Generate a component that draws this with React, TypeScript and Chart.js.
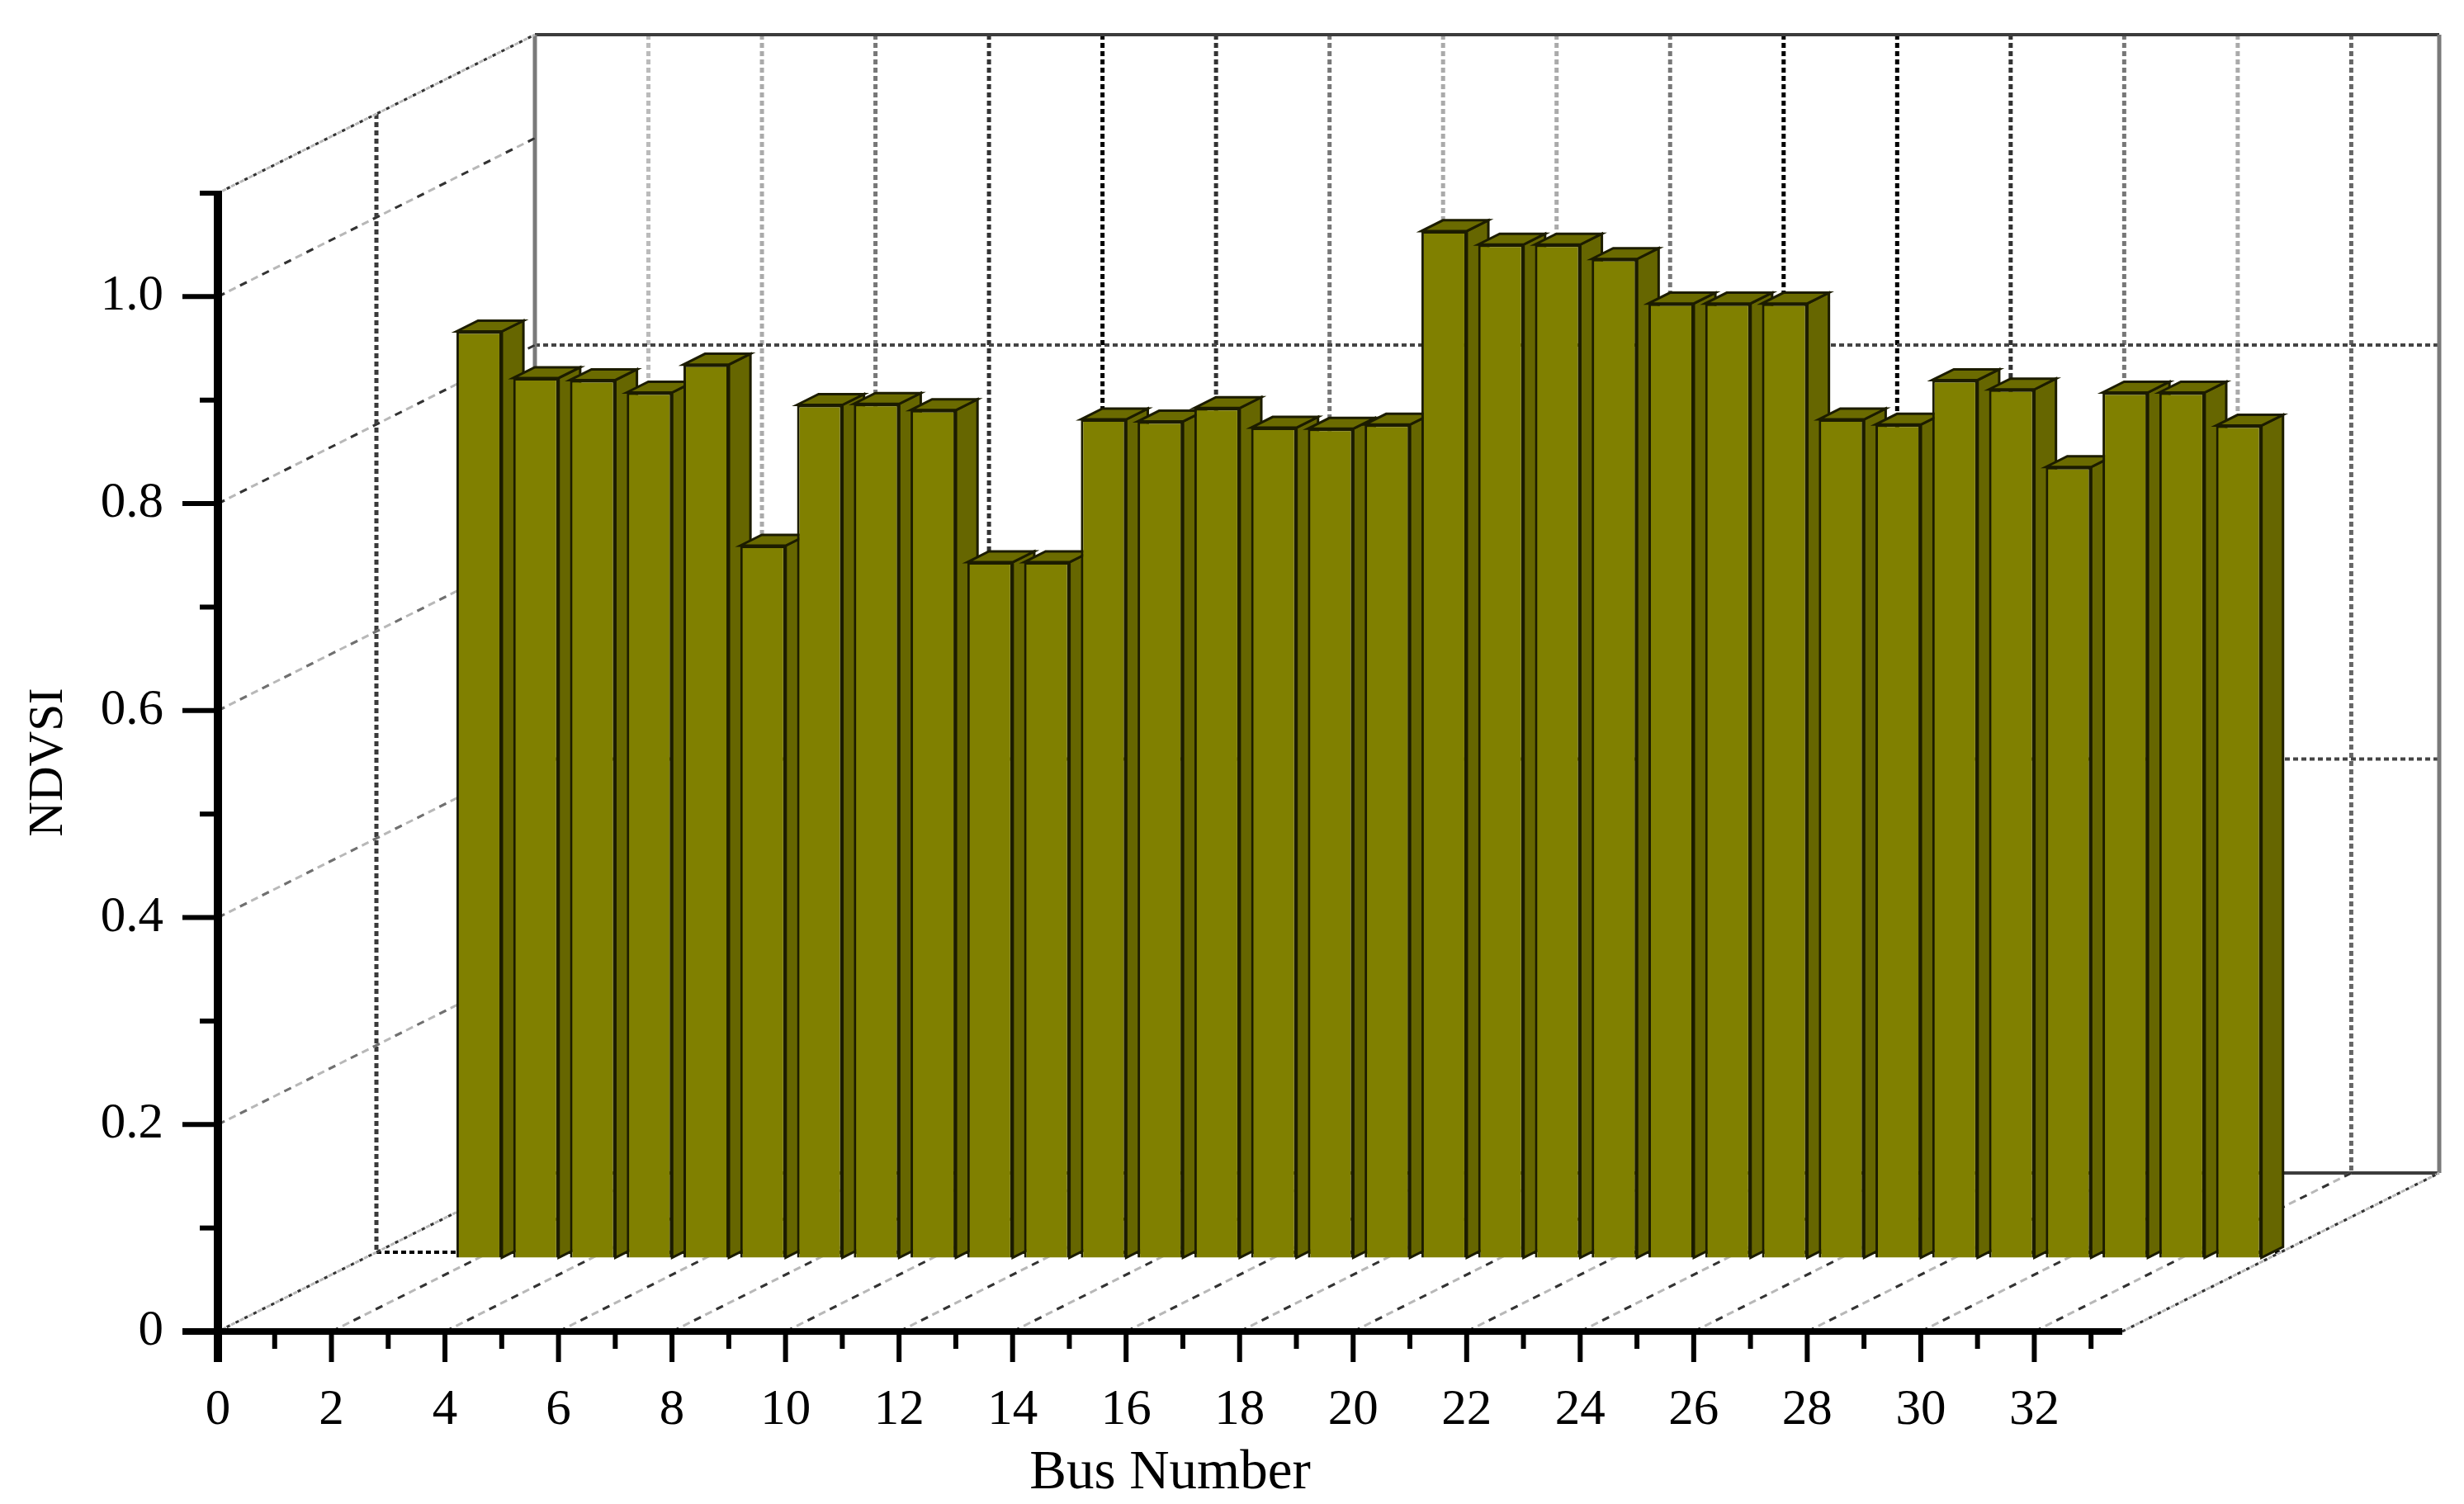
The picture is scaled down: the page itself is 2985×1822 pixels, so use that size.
import React, { useEffect, useRef } from "react";
import { Chart, registerables } from "chart.js";

Chart.register(...registerables);

// ---- data ----
const busNumbers = [2, 3, 4, 5, 6, 7, 8, 9, 10, 11, 12, 13, 14, 15, 16, 17, 18, 19, 20, 21, 22, 23, 24, 25, 26, 27, 28, 29, 30, 31, 32, 33];
const ndvsi = [0.895, 0.85, 0.848, 0.836, 0.863, 0.688, 0.824, 0.825, 0.819, 0.672, 0.672, 0.81, 0.808, 0.821, 0.802, 0.801, 0.805, 0.992, 0.979, 0.979, 0.965, 0.922, 0.922, 0.922, 0.81, 0.805, 0.848, 0.839, 0.764, 0.836, 0.836, 0.804];
const xTickValues = [0, 2, 4, 6, 8, 10, 12, 14, 16, 18, 20, 22, 24, 26, 28, 30, 32];
const yTickValues = [0, 0.2, 0.4, 0.6, 0.8, 1.0];
const yMinorValues = [0.1, 0.3, 0.5, 0.7, 0.9, 1.1];
const backWallRows = [0.8, 0.4];
const backColumnShades = ["#bbbbbb", "#aaaaaa", "#777777", "#333333", "#000000", "#333333", "#777777", "#aaaaaa", "#aaaaaa", "#777777", "#000000", "#000000", "#333333", "#777777", "#aaaaaa", "#666666"];
const axisTitleX = "Bus Number";
const axisTitleY = "NDVSI";

// ---- 3D projection of the depth axis ----
const DEPTH_X = 384;
const DEPTH_Y = -192;
const BAR_PLANE = 0.466;
const BAR_DEPTH = 0.068;
const MID_PLANE = 0.5;

const FRONT = "#808000";
const SIDE = "#666600";
const TOP = "#6b6b00";
const EDGE = "#1c1c00";

const seg = (ctx: CanvasRenderingContext2D, x1: number, y1: number, x2: number, y2: number) => {
  ctx.beginPath();
  ctx.moveTo(x1, y1);
  ctx.lineTo(x2, y2);
  ctx.stroke();
};

const dashedTwoTone = (ctx: CanvasRenderingContext2D, x1: number, y1: number, x2: number, y2: number, dense: boolean, dark: string) => {
  ctx.save();
  ctx.lineWidth = 3;
  ctx.strokeStyle = "#b8b8b8";
  ctx.setLineDash(dense ? [5, 1] : [9, 6]);
  seg(ctx, x1, y1, x2, y2);
  ctx.strokeStyle = dark;
  ctx.setLineDash(dense ? [4, 8] : [9, 21]);
  seg(ctx, x1, y1, x2, y2);
  ctx.restore();
};

const walls = {
  id: "walls",
  beforeDatasetsDraw(chart: any) {
    const { ctx, scales } = chart;
    const x = scales.x;
    const y = scales.y;
    const x0 = x.getPixelForValue(x.min);
    const x1 = x.getPixelForValue(x.max);
    const y0 = y.getPixelForValue(0);
    const yT = y.getPixelForValue(y.max);
    ctx.save();
    // back wall grid
    ctx.lineWidth = 5;
    ctx.setLineDash([6, 4]);
    xTickValues.slice(1).forEach((v, i) => {
      const px = x.getPixelForValue(v) + DEPTH_X;
      ctx.strokeStyle = backColumnShades[i];
      seg(ctx, px, yT + DEPTH_Y, px, y0 + DEPTH_Y);
    });
    ctx.lineWidth = 4;
    ctx.strokeStyle = "#444444";
    backWallRows.forEach((v) => {
      const py = y.getPixelForValue(v) + DEPTH_Y;
      seg(ctx, x0 + DEPTH_X, py, x1 + DEPTH_X, py);
    });
    // mid plane of the side wall and floor
    ctx.lineWidth = 5;
    ctx.strokeStyle = "#3a3a3a";
    seg(ctx, x0 + DEPTH_X * MID_PLANE, yT + DEPTH_Y * MID_PLANE, x0 + DEPTH_X * MID_PLANE, y0 + DEPTH_Y * MID_PLANE);
    ctx.lineWidth = 4;
    ctx.strokeStyle = "#000000";
    seg(ctx, x0 + DEPTH_X * MID_PLANE, y0 + DEPTH_Y * MID_PLANE, x1 + DEPTH_X * MID_PLANE, y0 + DEPTH_Y * MID_PLANE);
    ctx.setLineDash([]);
    // back wall frame
    ctx.lineWidth = 4;
    ctx.strokeStyle = "#3c3c3c";
    seg(ctx, x0 + DEPTH_X, yT + DEPTH_Y, x1 + DEPTH_X, yT + DEPTH_Y);
    seg(ctx, x0 + DEPTH_X, y0 + DEPTH_Y, x1 + DEPTH_X, y0 + DEPTH_Y);
    ctx.lineWidth = 5;
    ctx.strokeStyle = "#7a7a7a";
    seg(ctx, x0 + DEPTH_X, yT + DEPTH_Y, x0 + DEPTH_X, y0 + DEPTH_Y);
    seg(ctx, x1 + DEPTH_X, yT + DEPTH_Y, x1 + DEPTH_X, y0 + DEPTH_Y);
    ctx.restore();
    // side wall rows
    [...yTickValues, 1.1].forEach((v) => {
      const py = y.getPixelForValue(v);
      const dark = v > 0 && v < 0.7 ? "#707070" : "#333333";
      dashedTwoTone(ctx, x0, py, x0 + DEPTH_X, py + DEPTH_Y, v === 0 || v === 1.1, dark);
    });
    // floor columns
    [...xTickValues.slice(1), x.max].forEach((v) => {
      const px = x.getPixelForValue(v);
      dashedTwoTone(ctx, px, y0, px + DEPTH_X, y0 + DEPTH_Y, v === x.max, "#333333");
    });
  },
};

const bars3d = {
  id: "bars3d",
  beforeDatasetDraw(chart: any, args: any) {
    const { ctx } = chart;
    const dx = DEPTH_X * BAR_PLANE;
    const dy = DEPTH_Y * BAR_PLANE;
    const sx = DEPTH_X * BAR_DEPTH;
    const sy = DEPTH_Y * BAR_DEPTH;
    ctx.save();
    ctx.translate(dx, dy);
    args.meta.data.forEach((bar: any) => {
      const { x, y, base, width } = bar.getProps(["x", "y", "base", "width"], true);
      const l = x - width / 2;
      const r = x + width / 2;
      ctx.lineWidth = 3;
      ctx.strokeStyle = EDGE;
      ctx.lineJoin = "miter";
      ctx.fillStyle = SIDE;
      ctx.beginPath();
      ctx.moveTo(r, y);
      ctx.lineTo(r + sx, y + sy);
      ctx.lineTo(r + sx, base + sy);
      ctx.lineTo(r, base);
      ctx.closePath();
      ctx.fill();
      ctx.stroke();
      ctx.fillStyle = TOP;
      ctx.beginPath();
      ctx.moveTo(l, y);
      ctx.lineTo(l + sx, y + sy);
      ctx.lineTo(r + sx, y + sy);
      ctx.lineTo(r, y);
      ctx.closePath();
      ctx.fill();
      ctx.stroke();
      bar.draw(ctx);
    });
    ctx.restore();
    return false;
  },
};

const axisMarks = {
  id: "axisMarks",
  afterDatasetsDraw(chart: any) {
    const { ctx, scales } = chart;
    const x = scales.x;
    const y = scales.y;
    const x0 = x.getPixelForValue(x.min);
    const x1 = x.getPixelForValue(x.max);
    const y0 = y.getPixelForValue(0);
    const yT = y.getPixelForValue(y.max);
    ctx.save();
    ctx.strokeStyle = "#000000";
    ctx.lineCap = "butt";
    ctx.lineWidth = 10;
    seg(ctx, x0, yT - 3, x0, y0 + 37);
    ctx.lineWidth = 8;
    seg(ctx, x0 - 43, y0, x1, y0);
    ctx.lineWidth = 6;
    yTickValues.slice(1).forEach((v) => {
      const p = y.getPixelForValue(v);
      seg(ctx, x0 - 43, p, x0, p);
    });
    yMinorValues.forEach((v) => {
      const p = y.getPixelForValue(v);
      seg(ctx, x0 - 22, p, x0, p);
    });
    for (let v = 1; v <= x.max; v += 1) {
      const p = x.getPixelForValue(v);
      seg(ctx, p, y0, p, y0 + (v % 2 === 0 ? 37 : 21));
    }
    ctx.restore();
  },
};

export default function App() {
  const ref = useRef<HTMLCanvasElement>(null);
  useEffect(() => {
    const chart = new Chart(ref.current as HTMLCanvasElement, {
      type: "bar",
      data: {
        datasets: [
          {
            label: axisTitleY,
            data: busNumbers.map((b, i) => ({ x: b, y: ndvsi[i] })),
            backgroundColor: FRONT,
            borderColor: EDGE,
            borderWidth: 3,
            barPercentage: 0.8,
            categoryPercentage: 1,
          },
        ],
      },
      plugins: [walls, bars3d, axisMarks],
      options: {
        responsive: false,
        animation: false,
        devicePixelRatio: 1,
        layout: { padding: { top: 234, left: 0, right: 414, bottom: 0 }, autoPadding: false },
        plugins: { legend: { display: false }, tooltip: { enabled: false } },
        scales: {
          x: {
            type: "linear",
            min: 0,
            max: 33.55,
            offset: false,
            grid: { display: false, drawTicks: false },
            border: { display: false },
            afterBuildTicks: (s: any) => {
              s.ticks = xTickValues.map((value) => ({ value }));
            },
            afterFit: (s: any) => {
              s.height = 209;
            },
            ticks: {
              autoSkip: false,
              maxRotation: 0,
              padding: 59,
              color: "#000000",
              font: { family: "Liberation Serif", size: 61 },
              callback: (v: any) => String(v),
            },
            title: {
              display: true,
              text: axisTitleX,
              color: "#000000",
              font: { family: "Liberation Serif", size: 67, lineHeight: 1.1 },
              padding: { top: 0, bottom: 0 },
            },
          },
          y: {
            type: "linear",
            min: 0,
            max: 1.1,
            grid: { display: false, drawTicks: false },
            border: { display: false },
            afterBuildTicks: (s: any) => {
              s.ticks = yTickValues.map((value) => ({ value }));
            },
            afterFit: (s: any) => {
              s.width = 264;
            },
            ticks: {
              autoSkip: false,
              padding: 66,
              color: "#000000",
              font: { family: "Liberation Serif", size: 61 },
              callback: (v: any) => (Number(v) === 0 ? "0" : Number(v).toFixed(1)),
            },
            title: {
              display: true,
              text: axisTitleY,
              color: "#000000",
              font: { family: "Liberation Serif", size: 59 },
              padding: { top: 24, bottom: 0 },
            },
          },
        },
      },
    } as any);
    return () => chart.destroy();
  }, []);
  return (
    <canvas
      ref={ref}
      width={2985}
      height={1822}
      style={{ position: "absolute", left: 0, top: 0, display: "block", background: "#ffffff" }}
    />
  );
}
